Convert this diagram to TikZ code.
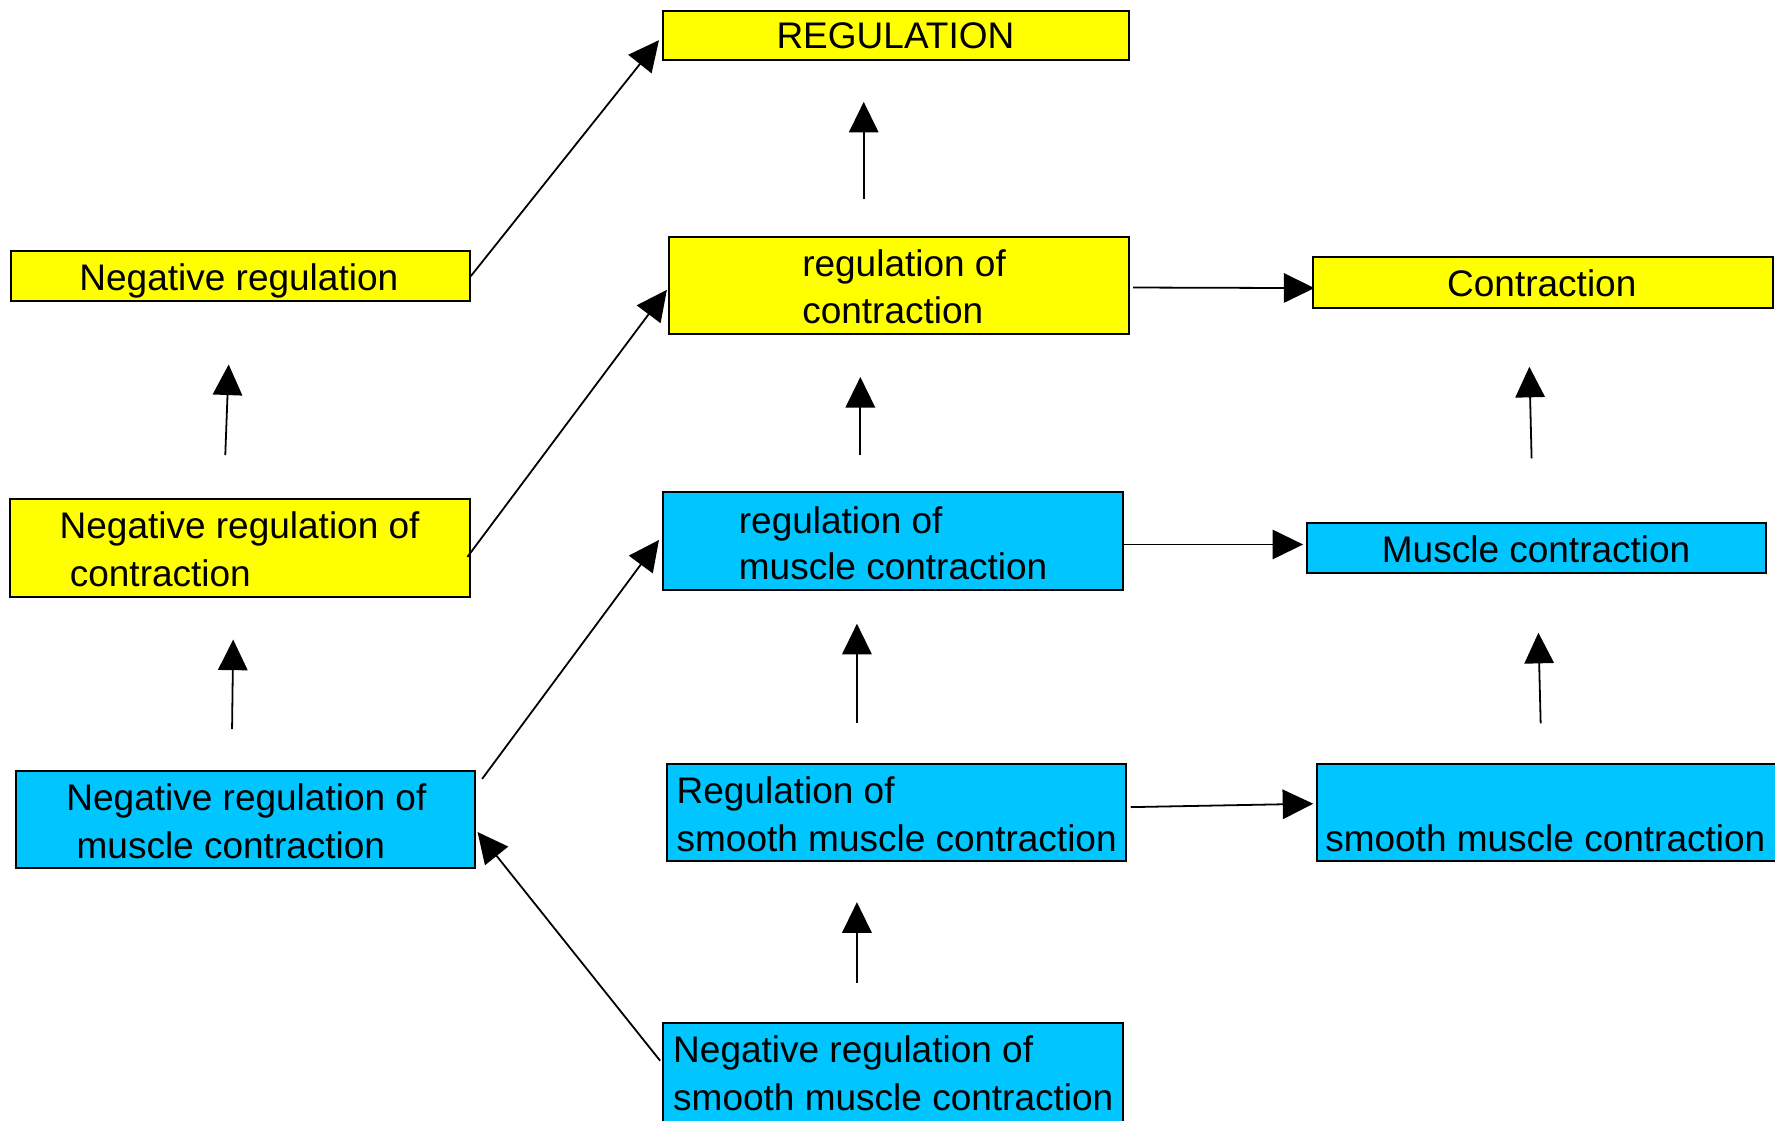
\documentclass[tikz,border=0pt]{standalone}
\usepackage{fontspec}
\setmainfont{Liberation Sans}
\usetikzlibrary{arrows.meta,calc}
\definecolor{boxyellow}{RGB}{255,255,0}
\definecolor{boxblue}{RGB}{0,197,255}
\tikzset{
  box/.style={draw=black, line width=0.5pt, rectangle, inner sep=0pt},
  ybox/.style={box, fill=boxyellow},
  bbox/.style={box, fill=boxblue},
  lbl/.style={inner sep=0pt, anchor=base west, font=\fontsize{9.3}{11}\selectfont},
  clbl/.style={inner sep=0pt, anchor=base, font=\fontsize{9.3}{11}\selectfont},
  link/.style={line width=0.45pt, -{Triangle[length=2.7mm,width=2.6mm]}}
}
\begin{document}
\begin{tikzpicture}[x=0.1mm, y=-0.1mm]
\useasboundingbox (0,0) rectangle (1568,990);

% ---- boxes ----
\node[ybox, minimum width=41.1mm, minimum height=4.3mm] (reg)   at (791.5,31.5) {};
\node[ybox, minimum width=40.5mm, minimum height=4.4mm] (nr)    at (212.5,244) {};
\node[ybox, minimum width=40.6mm, minimum height=8.6mm] (rc)    at (794,252) {};
\node[ybox, minimum width=40.6mm, minimum height=4.5mm] (ct)    at (1363,249.5) {};
\node[ybox, minimum width=40.6mm, minimum height=8.6mm] (nrc)   at (212,484) {};
\node[bbox, minimum width=40.6mm, minimum height=8.6mm] (rmc)   at (789,478) {};
\node[bbox, minimum width=40.5mm, minimum height=4.4mm] (mc)    at (1357.5,484) {};
\node[bbox, minimum width=40.6mm, minimum height=8.6mm] (nrmc)  at (217,724) {};
\node[bbox, minimum width=40.6mm, minimum height=8.6mm] (rsmc)  at (792,718) {};
\node[bbox, minimum width=42.7mm, minimum height=8.6mm] (smc)   at (1376.5,718) {};
\node[bbox, minimum width=40.6mm, minimum height=10.6mm] (nrsmc) at (789,957) {};

% ---- labels ----
\node[clbl] (t-reg)  at (791,43) {REGULATION};
\node[clbl] (t-nr)   at (211,257) {Negative regulation};
\node[lbl]  (t-rc1)  at (708,244) {regulation of};
\node[lbl]  (t-rc2)  at (708,286) {contraction};
\node[clbl] (t-ct)   at (1362,262) {Contraction};
\node[lbl]  (t-nrc1) at (52,476) {Negative regulation of};
\node[lbl]  (t-nrc2) at (61,518) {contraction};
\node[lbl]  (t-rmc1) at (652,471) {regulation of};
\node[lbl]  (t-rmc2) at (652,512) {muscle contraction};
\node[clbl] (t-mc)   at (1357,497) {Muscle contraction};
\node[lbl]  (t-nrmc1) at (58,716) {Negative regulation of};
\node[lbl]  (t-nrmc2) at (67,758) {muscle contraction};
\node[lbl]  (t-rsmc1) at (597,710) {Regulation of};
\node[lbl]  (t-rsmc2) at (597,752) {smooth muscle contraction};
\node[lbl]  (t-smc)   at (1170,752) {smooth muscle contraction};
\node[lbl]  (t-nrsmc1) at (594,939) {Negative regulation of};
\node[lbl]  (t-nrsmc2) at (594,981) {smooth muscle contraction};

% ---- free-standing upward arrows between rows ----
\coordinate (u1s) at (763,176);  \coordinate (u1e) at (763,90);
\coordinate (u2s) at (199,402);  \coordinate (u2e) at (202,322);
\coordinate (u3s) at (760,402);  \coordinate (u3e) at (760,333);
\coordinate (u4s) at (1353,405); \coordinate (u4e) at (1351,324);
\coordinate (u5s) at (205,644);  \coordinate (u5e) at (206,565);
\coordinate (u6s) at (757,639);  \coordinate (u6e) at (757,551);
\coordinate (u7s) at (1361,639); \coordinate (u7e) at (1359,559);
\coordinate (u8s) at (757,868);  \coordinate (u8e) at (757,797);
\foreach \i in {1,...,8} { \draw[link] (u\i s) -- (u\i e); }

% ---- connectors between boxes ----
\draw[link] (nr.east) -- ($(reg.west)+(-3,4)$);
\draw[link] ($(nrc.east)+(-3,8)$) -- ($(rc.west)+(-1,4)$);
\draw[link] ($(nrmc.north east)+(5,8)$) -- ($(rmc.west)+(-3,-1)$);
\draw[link] ($(nrsmc.west)+(-2,-20)$) -- ($(nrmc.east)+(1,11)$);
\draw[link] ($(rc.east)+(3,2)$) -- ($(ct.west)+(2,5)$);
\draw[link] ($(rmc.east)+(0,3)$) -- ($(mc.west)+(-3,-3)$);
\draw[link] ($(rsmc.east)+(3,-5)$) -- ($(smc.west)+(-2,-8)$);
\end{tikzpicture}
\end{document}
